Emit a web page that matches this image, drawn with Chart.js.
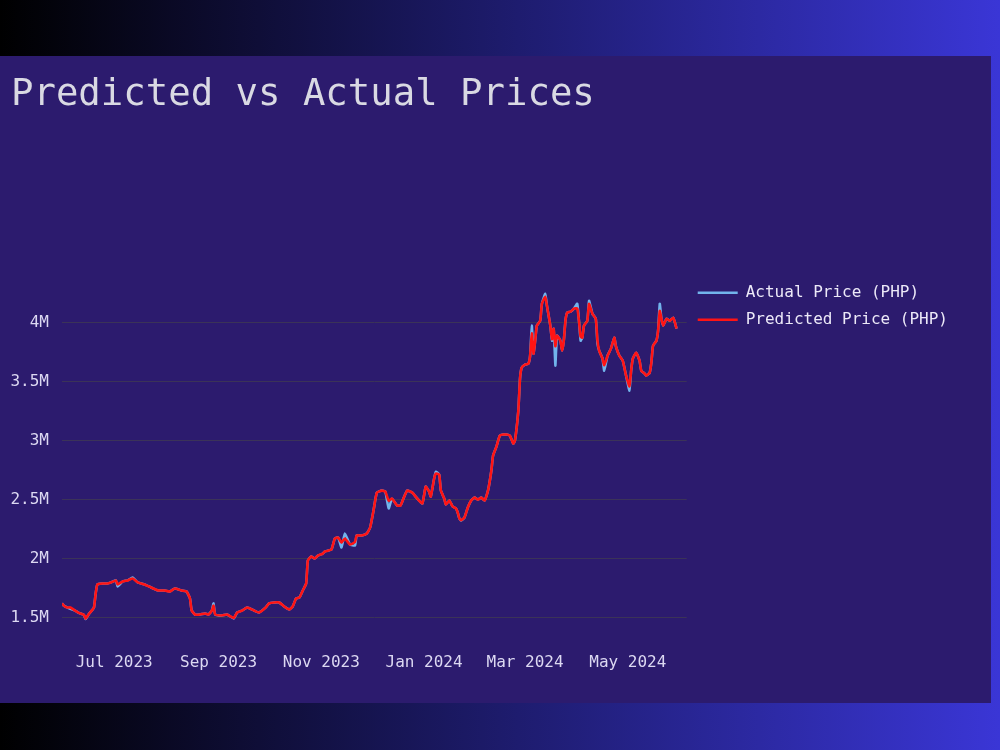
<!DOCTYPE html>
<html>
<head>
<meta charset="utf-8">
<script src="https://cdn.jsdelivr.net/npm/chart.js@4.4.1/dist/chart.umd.min.js"></script>
<style>
    html, body {
        margin: 0;
        padding: 0;
        width: 1000px;
        height: 750px;
        overflow: hidden;
        background: linear-gradient(to right, #000000 0%, #3a36d6 100%);
    }
    #panel {
        position: absolute;
        left: 0;
        top: 56px;
        width: 991px;
        height: 647px;
        background: #2c1b6e;
    }
    canvas { display: block; }
</style>
</head>
<body>
<div id="panel"><canvas id="priceChart" width="991" height="647"></canvas></div>
<script>
// Datas das amostras
const dates = [
    '2023-05-31','2023-06-01','2023-06-03','2023-06-05','2023-06-08','2023-06-10','2023-06-13','2023-06-14','2023-06-16','2023-06-18',
    '2023-06-19','2023-06-20','2023-06-21','2023-06-24','2023-06-27','2023-06-29','2023-07-02','2023-07-03','2023-07-06','2023-07-09',
    '2023-07-12','2023-07-15','2023-07-19','2023-07-23','2023-07-27','2023-07-31','2023-08-03','2023-08-06','2023-08-10','2023-08-13',
    '2023-08-15','2023-08-16','2023-08-18','2023-08-21','2023-08-24','2023-08-26','2023-08-28','2023-08-29','2023-08-30','2023-09-03',
    '2023-09-06','2023-09-10','2023-09-12','2023-09-15','2023-09-18','2023-09-22','2023-09-25','2023-09-29','2023-10-01','2023-10-04',
    '2023-10-07','2023-10-10','2023-10-13','2023-10-15','2023-10-17','2023-10-19','2023-10-21','2023-10-23','2023-10-24','2023-10-26',
    '2023-10-28','2023-10-30','2023-11-02','2023-11-03','2023-11-07','2023-11-09','2023-11-11','2023-11-13','2023-11-15','2023-11-18',
    '2023-11-21','2023-11-22','2023-11-25','2023-11-28','2023-11-30','2023-12-02','2023-12-04','2023-12-07','2023-12-09','2023-12-11',
    '2023-12-13','2023-12-16','2023-12-18','2023-12-20','2023-12-22','2023-12-25','2023-12-27','2023-12-29','2023-12-31','2024-01-01',
    '2024-01-02','2024-01-04','2024-01-05','2024-01-07','2024-01-08','2024-01-10','2024-01-11','2024-01-13','2024-01-14','2024-01-16',
    '2024-01-18','2024-01-20','2024-01-21','2024-01-22','2024-01-23','2024-01-25','2024-01-27','2024-01-29','2024-01-31','2024-02-02',
    '2024-02-04','2024-02-06','2024-02-08','2024-02-10','2024-02-11','2024-02-13','2024-02-15','2024-02-17','2024-02-19','2024-02-21',
    '2024-02-23','2024-02-24','2024-02-26','2024-02-27','2024-02-28','2024-03-01','2024-03-03','2024-03-04','2024-03-05','2024-03-06',
    '2024-03-07','2024-03-08','2024-03-10','2024-03-11','2024-03-13','2024-03-14','2024-03-16','2024-03-17','2024-03-18','2024-03-19',
    '2024-03-20','2024-03-22','2024-03-23','2024-03-24','2024-03-25','2024-03-26','2024-03-28','2024-03-30','2024-04-01','2024-04-02',
    '2024-04-03','2024-04-04','2024-04-05','2024-04-07','2024-04-08','2024-04-10','2024-04-12','2024-04-13','2024-04-14','2024-04-16',
    '2024-04-17','2024-04-19','2024-04-21','2024-04-23','2024-04-24','2024-04-26','2024-04-28','2024-04-30','2024-05-02','2024-05-03',
    '2024-05-04','2024-05-06','2024-05-08','2024-05-09','2024-05-11','2024-05-12','2024-05-14','2024-05-15','2024-05-16','2024-05-18',
    '2024-05-19','2024-05-20','2024-05-21','2024-05-22','2024-05-24','2024-05-26','2024-05-28','2024-05-29','2024-05-30'
];

// Preços em milhões de PHP
const actualPrice = [
    1.619,1.602,1.585,1.572,1.556,1.539,1.522,1.487,1.530,1.564,
    1.585,1.703,1.780,1.788,1.788,1.797,1.814,1.763,1.805,1.814,
    1.839,1.797,1.780,1.754,1.729,1.729,1.720,1.746,1.729,1.720,
    1.661,1.559,1.525,1.525,1.534,1.525,1.559,1.619,1.525,1.517,
    1.525,1.492,1.542,1.559,1.585,1.559,1.542,1.585,1.619,1.627,
    1.627,1.593,1.568,1.593,1.661,1.669,1.729,1.788,1.983,2.017,
    2.000,2.025,2.042,2.059,2.076,2.169,2.178,2.093,2.212,2.119,
    2.110,2.195,2.195,2.212,2.263,2.407,2.559,2.576,2.568,2.424,
    2.508,2.449,2.449,2.517,2.576,2.559,2.525,2.492,2.466,2.534,
    2.610,2.568,2.525,2.678,2.737,2.712,2.576,2.508,2.458,2.492,
    2.441,2.424,2.390,2.339,2.322,2.347,2.432,2.492,2.517,2.500,
    2.517,2.492,2.576,2.746,2.873,2.949,3.042,3.051,3.051,3.042,
    2.975,3.000,3.254,3.525,3.619,3.644,3.653,3.720,3.975,3.737,
    3.847,3.975,4.017,4.161,4.246,4.144,3.975,3.847,3.949,3.636,
    3.890,3.847,3.763,3.847,4.017,4.085,4.093,4.119,4.161,4.017,
    3.847,3.873,3.975,4.017,4.186,4.076,4.034,3.822,3.763,3.695,
    3.593,3.720,3.780,3.873,3.797,3.720,3.678,3.551,3.424,3.593,
    3.695,3.746,3.678,3.593,3.568,3.551,3.576,3.661,3.805,3.847,
    3.932,4.161,4.034,3.975,4.034,4.017,4.042,4.000,3.949
];

const predictedPrice = [
    1.619,1.602,1.585,1.585,1.556,1.539,1.522,1.490,1.530,1.564,
    1.585,1.703,1.780,1.788,1.788,1.797,1.814,1.780,1.805,1.814,
    1.830,1.797,1.780,1.754,1.729,1.729,1.720,1.746,1.729,1.720,
    1.661,1.559,1.525,1.525,1.534,1.525,1.559,1.600,1.525,1.517,
    1.525,1.495,1.542,1.559,1.585,1.559,1.542,1.585,1.619,1.627,
    1.627,1.593,1.568,1.593,1.661,1.669,1.729,1.788,1.983,2.017,
    2.000,2.025,2.042,2.059,2.076,2.169,2.178,2.135,2.170,2.119,
    2.140,2.195,2.195,2.212,2.263,2.407,2.559,2.576,2.568,2.490,
    2.508,2.449,2.449,2.517,2.576,2.559,2.525,2.492,2.466,2.534,
    2.610,2.568,2.525,2.678,2.720,2.712,2.576,2.508,2.458,2.492,
    2.441,2.424,2.390,2.339,2.325,2.347,2.432,2.492,2.517,2.500,
    2.517,2.492,2.576,2.746,2.873,2.949,3.042,3.051,3.051,3.042,
    2.975,3.000,3.254,3.525,3.619,3.644,3.653,3.720,3.910,3.737,
    3.847,3.975,4.017,4.161,4.220,4.144,3.975,3.860,3.949,3.800,
    3.890,3.847,3.763,3.847,4.017,4.085,4.093,4.119,4.120,4.017,
    3.880,3.873,3.975,4.017,4.160,4.076,4.034,3.850,3.763,3.695,
    3.640,3.720,3.780,3.873,3.797,3.720,3.678,3.551,3.460,3.593,
    3.695,3.746,3.678,3.593,3.568,3.551,3.576,3.661,3.805,3.847,
    3.932,4.100,4.034,3.975,4.034,4.017,4.042,4.000,3.949
];

const xTickDates = ['2023-07-01', '2023-09-01', '2023-11-01', '2024-01-01', '2024-03-01', '2024-05-01'];
const xTickLabels = ['Jul 2023', 'Sep 2023', 'Nov 2023', 'Jan 2024', 'Mar 2024', 'May 2024'];
const yTickValues = [1.5, 2, 2.5, 3, 3.5, 4];
const yTickLabels = ['1.5M', '2M', '2.5M', '3M', '3.5M', '4M'];

const toDay = s => Date.parse(s + 'T00:00:00Z') / 86400000;
const xDays = dates.map(toDay);

const monoFont = 'DejaVu Sans Mono';
const tickColor = '#dcd8f2';

const ctx = document.getElementById('priceChart');

new Chart(ctx, {
    type: 'line',
    data: {
        datasets: [
            {
                label: 'Actual Price (PHP)',
                data: xDays.map((x, i) => ({ x, y: actualPrice[i] })),
                borderColor: '#72b4ec',
                borderWidth: 2.5,
                pointRadius: 0,
                tension: 0.15,
                order: 1
            },
            {
                label: 'Predicted Price (PHP)',
                data: xDays.map((x, i) => ({ x, y: predictedPrice[i] })),
                borderColor: '#ff1414',
                borderWidth: 2.6,
                pointRadius: 0,
                tension: 0.15,
                order: 0
            }
        ]
    },
    options: {
        responsive: false,
        animation: false,
        layout: {
            padding: { left: 11, right: 33, top: 0, bottom: 19 }
        },
        plugins: {
            title: {
                display: true,
                text: 'Predicted vs Actual Prices',
                align: 'start',
                color: '#d9d9e3',
                font: { family: monoFont, size: 37.3, weight: 'normal' },
                padding: { top: 17, bottom: 156 }
            },
            legend: {
                position: 'right',
                align: 'start',
                fullSize: false,
                maxWidth: 320,
                labels: {
                    color: '#ece9f8',
                    font: { family: monoFont, size: 16 },
                    usePointStyle: true,
                    pointStyle: 'line',
                    pointStyleWidth: 40,
                    padding: 11,
                    sort: (a, b) => a.datasetIndex - b.datasetIndex
                }
            },
            tooltip: { enabled: false }
        },
        scales: {
            x: {
                type: 'linear',
                min: xDays[0],
                max: toDay('2024-06-05'),
                grid: { display: false, drawTicks: false },
                border: { display: false },
                afterBuildTicks: axis => {
                    axis.ticks = xTickDates.map(d => ({ value: toDay(d) }));
                },
                ticks: {
                    autoSkip: false,
                    maxRotation: 0,
                    padding: 12,
                    color: tickColor,
                    font: { family: monoFont, size: 16 },
                    callback: (v, i) => xTickLabels[i]
                }
            },
            y: {
                min: 1.302,
                max: 4.415,
                grid: { color: '#3b3358', drawTicks: false },
                border: { display: false },
                afterBuildTicks: axis => {
                    axis.ticks = yTickValues.map(v => ({ value: v }));
                },
                afterFit: axis => {
                    axis.width = 51;
                },
                ticks: {
                    padding: 13,
                    color: tickColor,
                    font: { family: monoFont, size: 16 },
                    callback: (v, i) => yTickLabels[i]
                }
            }
        }
    }
});
</script>
</body>
</html>
